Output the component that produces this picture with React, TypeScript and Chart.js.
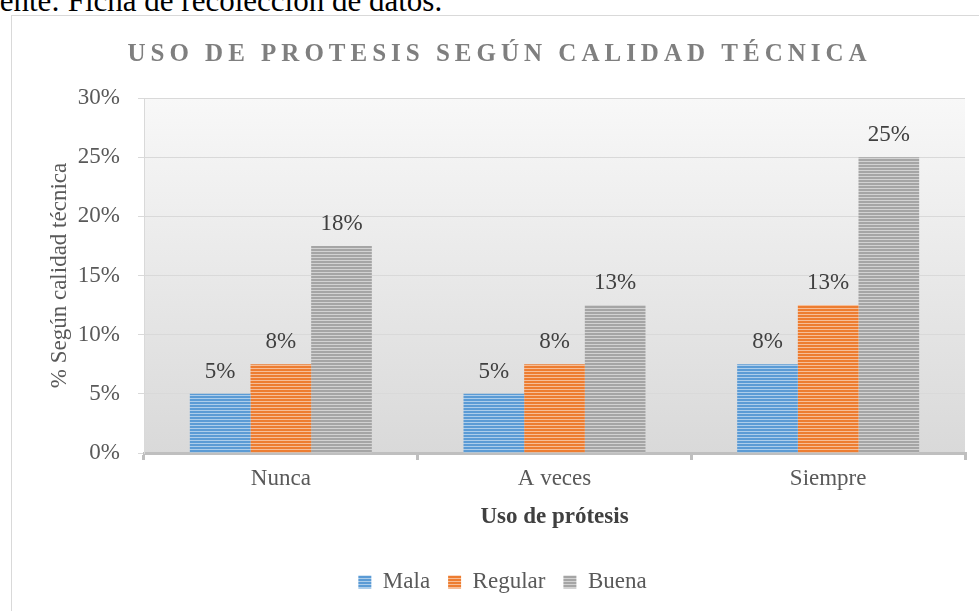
import React, { useEffect, useRef } from 'react';
import { Chart, registerables } from 'chart.js';

Chart.register(...registerables);

const categories = ['Nunca', 'A veces', 'Siempre'];
const seriesNames = ['Mala', 'Regular', 'Buena'];
const mala = [5, 5, 7.5];
const regular = [7.5, 7.5, 12.5];
const buena = [17.5, 12.5, 25];
const yTicks = [0, 5, 10, 15, 20, 25, 30];
const seriesColors = ['#5b9bd5', '#ed7d31', '#a5a5a5'];
const chartTitle = 'USO DE PROTESIS SEGÚN CALIDAD TÉCNICA';
const yTitle = '% Según calidad técnica';
const xTitle = 'Uso de prótesis';
const sourceText = 'Fuente: Ficha de recolección de datos.';

const FONT = '"Liberation Serif", "Times New Roman", serif';

function makePattern(ctx: CanvasRenderingContext2D, color: string) {
  const c = document.createElement('canvas');
  c.width = 4;
  c.height = 3;
  const g = c.getContext('2d')!;
  g.fillStyle = color;
  g.fillRect(0, 0, 4, 3);
  g.fillStyle = 'rgba(255,255,255,0.5)';
  g.fillRect(0, 2, 4, 1);
  return ctx.createPattern(c, 'repeat') as CanvasPattern;
}

const bgPlugin = {
  id: 'plotBg',
  beforeDraw(chart: any) {
    const { ctx, chartArea } = chart;
    if (!chartArea) return;
    const { left, right, top, bottom } = chartArea;
    const g = ctx.createLinearGradient(0, top, 0, bottom);
    g.addColorStop(0, '#f8f8f8');
    g.addColorStop(1, '#d9d9d9');
    ctx.save();
    ctx.fillStyle = g;
    ctx.fillRect(left, top, right - left, bottom - top);
    ctx.restore();
  },
};

const labelPlugin = {
  id: 'barLabels',
  afterDatasetsDraw(chart: any) {
    const ctx = chart.ctx;
    ctx.save();
    ctx.font = `23px ${FONT}`;
    ctx.fillStyle = '#404040';
    ctx.textAlign = 'center';
    ctx.textBaseline = 'alphabetic';
    chart.data.datasets.forEach((ds: any, i: number) => {
      chart.getDatasetMeta(i).data.forEach((bar: any, j: number) => {
        ctx.fillText(Math.round(ds.data[j]) + '%', bar.x, bar.y - 16);
      });
    });
    ctx.restore();
  },
};

const titlePlugin = {
  id: 'spacedTitle',
  afterDraw(chart: any) {
    const ctx = chart.ctx;
    ctx.save();
    ctx.font = `bold 25px ${FONT}`;
    const spacing = 5;
    (ctx as any).letterSpacing = spacing + 'px';
    ctx.fillStyle = '#7f7f7f';
    ctx.textAlign = 'center';
    ctx.textBaseline = 'alphabetic';
    ctx.fillText(chartTitle, 497 + spacing / 2, 61);
    ctx.restore();
  },
};

export default function App() {
  const ref = useRef<HTMLCanvasElement | null>(null);

  useEffect(() => {
    const canvas = ref.current!;
    const ctx = canvas.getContext('2d')!;
    const values = [mala, regular, buena];
    const chart = new Chart(canvas, {
      type: 'bar',
      data: {
        labels: categories,
        datasets: seriesNames.map((name, i) => ({
          label: name,
          data: values[i],
          backgroundColor: makePattern(ctx, seriesColors[i]),
          borderWidth: 0,
          barPercentage: 1,
          categoryPercentage: 0.665,
        })),
      },
      options: {
        animation: false,
        responsive: false,
        devicePixelRatio: 1,
        layout: { padding: { left: 40, right: 14, top: 98, bottom: 7.5 } },
        plugins: {
          legend: {
            position: 'bottom',
            labels: {
              font: { family: FONT, size: 23 },
              color: '#595959',
              boxWidth: 13,
              boxHeight: 13,
              padding: 18,
            },
          },
          title: { display: false },
          tooltip: { enabled: false },
        },
        scales: {
          x: {
            grid: {
              display: true,
              drawOnChartArea: false,
              drawTicks: true,
              tickLength: 7,
              color: '#bfbfbf',
              lineWidth: 3,
              offset: true,
            },
            border: { display: true, color: '#bfbfbf', width: 3 },
            ticks: { font: { family: FONT, size: 23 }, color: '#595959', padding: 5 },
            title: {
              display: true,
              text: xTitle,
              font: { family: FONT, size: 23, weight: 'bold' },
              color: '#404040',
              padding: { top: 0, bottom: 21.7 },
            },
            afterFit: (s: any) => {
              s.height = 99.5;
            },
          },
          y: {
            min: 0,
            max: 30,
            afterBuildTicks: (s: any) => {
              s.ticks = yTicks.map((v) => ({ value: v }));
            },
            ticks: {
              callback: (v: any) => v + '%',
              font: { family: FONT, size: 23 },
              color: '#595959',
              padding: 18,
            },
            grid: { color: '#d9d9d9', lineWidth: 1, tickLength: 6, drawTicks: true },
            border: { display: true, color: '#d9d9d9', width: 1 },
            title: {
              display: true,
              text: yTitle,
              font: { family: FONT, size: 23 },
              color: '#595959',
              padding: { top: 6, bottom: 0 },
            },
            afterFit: (s: any) => {
              s.width = 104;
            },
          },
        },
      } as any,
      plugins: [bgPlugin, labelPlugin, titlePlugin],
    });
    return () => chart.destroy();
  }, []);

  return (
    <div
      style={{
        position: 'fixed',
        left: 0,
        top: 0,
        width: 979,
        height: 611,
        overflow: 'hidden',
        background: '#ffffff',
      }}
    >
      <div
        style={{
          position: 'absolute',
          left: -33,
          top: -15,
          fontFamily: FONT,
          fontSize: 31,
          lineHeight: '31px',
          whiteSpace: 'nowrap',
          color: '#000',
        }}
      >
        {sourceText}
      </div>
      <div
        style={{
          position: 'absolute',
          left: 11,
          top: 15,
          width: 1000,
          height: 700,
          border: '1px solid #d9d9d9',
        }}
      />
      <canvas
        ref={ref}
        width={979}
        height={611}
        style={{ position: 'absolute', left: 0, top: 0, width: 979, height: 611 }}
      />
    </div>
  );
}
